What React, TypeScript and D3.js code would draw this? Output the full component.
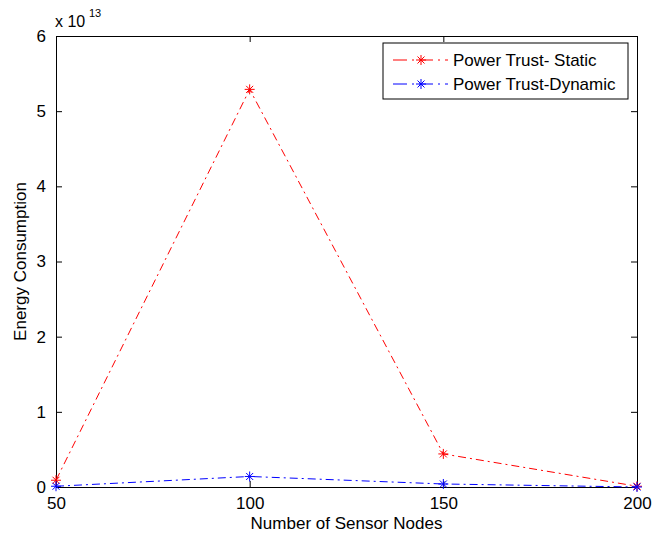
import React, { useEffect, useRef } from "react";
import * as d3 from "d3";

const nodes = [50, 100, 150, 200];
const staticEnergy = [0.09, 5.29, 0.44, 0.01];
const dynamicEnergy = [0.01, 0.14, 0.04, 0.0];
const yTicks = [0, 1, 2, 3, 4, 5, 6];
const seriesNames = ["Power Trust- Static", "Power Trust-Dynamic"];
const seriesColors = ["#ff0000", "#0000ff"];

const width = 663;
const height = 538;
const margin = { top: 36, right: 26, bottom: 51, left: 56 };

const App = () => {
  const ref = useRef<SVGSVGElement>(null);

  useEffect(() => {
    const svg = d3.select(ref.current);
    svg.selectAll("*").remove();

    const x = d3.scaleLinear().domain([50, 200]).range([margin.left, width - margin.right]);
    const y = d3.scaleLinear().domain([0, 6]).range([height - margin.bottom, margin.top]);
    const font = "'Liberation Sans', Arial, sans-serif";

    // ticks inside, like matlab
    const xAxis = d3.axisBottom(x).tickValues(nodes).tickSizeInner(-6).tickSizeOuter(0).tickPadding(10);
    const yAxis = d3
      .axisLeft(y)
      .tickValues(yTicks)
      .tickFormat(d3.format("d"))
      .tickSizeInner(-6)
      .tickSizeOuter(0)
      .tickPadding(10);
    const xTop = d3.axisTop(x).tickValues(nodes).tickSizeInner(-6).tickSizeOuter(0).tickFormat(() => "");
    const yRight = d3.axisRight(y).tickValues(yTicks).tickSizeInner(-6).tickSizeOuter(0).tickFormat(() => "");

    const gx = svg.append("g").attr("transform", `translate(0,${height - margin.bottom})`).call(xAxis);
    const gy = svg.append("g").attr("transform", `translate(${margin.left},0)`).call(yAxis);
    svg.append("g").attr("transform", `translate(0,${margin.top})`).call(xTop);
    svg.append("g").attr("transform", `translate(${width - margin.right},0)`).call(yRight);

    svg.selectAll(".domain").attr("stroke", "#000");
    svg.selectAll(".tick line").attr("stroke", "#000");
    [gx, gy].forEach((g) =>
      g.selectAll("text").attr("font-family", font).attr("font-size", 17).attr("fill", "#000")
    );

    svg
      .append("text")
      .attr("x", margin.left - 1)
      .attr("y", 27)
      .attr("font-family", font)
      .attr("font-size", 16)
      .text("x 10");
    svg
      .append("text")
      .attr("x", margin.left + 33)
      .attr("y", 17)
      .attr("font-family", font)
      .attr("font-size", 11)
      .text("13");

    svg
      .append("text")
      .attr("x", (margin.left + width - margin.right) / 2)
      .attr("y", 529)
      .attr("text-anchor", "middle")
      .attr("font-family", font)
      .attr("font-size", 17)
      .text("Number of Sensor Nodes");
    svg
      .append("text")
      .attr("transform", `translate(26,${(margin.top + height - margin.bottom) / 2}) rotate(-90)`)
      .attr("text-anchor", "middle")
      .attr("font-family", font)
      .attr("font-size", 17)
      .text("Energy Consumption");

    const line = d3
      .line<number>()
      .x((_, i) => x(nodes[i]))
      .y((d) => y(d));

    const star = (g: any, cx: number, cy: number, color: string) => {
      const r = 5;
      const s = g.append("g").attr("stroke", color).attr("stroke-width", 1);
      s.append("line").attr("x1", cx - r).attr("x2", cx + r).attr("y1", cy).attr("y2", cy);
      s.append("line").attr("x1", cx).attr("x2", cx).attr("y1", cy - r).attr("y2", cy + r);
      s.append("line").attr("x1", cx - r * 0.7).attr("x2", cx + r * 0.7).attr("y1", cy - r * 0.7).attr("y2", cy + r * 0.7);
      s.append("line").attr("x1", cx - r * 0.7).attr("x2", cx + r * 0.7).attr("y1", cy + r * 0.7).attr("y2", cy - r * 0.7);
    };

    [staticEnergy, dynamicEnergy].forEach((vals, k) => {
      svg
        .append("path")
        .datum(vals)
        .attr("d", line)
        .attr("fill", "none")
        .attr("stroke", seriesColors[k])
        .attr("stroke-width", 1)
        .attr("stroke-dasharray", "8,4,2,4");
      vals.forEach((v, i) => star(svg, x(nodes[i]), y(v), seriesColors[k]));
    });

    // legend
    const lg = svg.append("g").attr("transform", "translate(383,43)");
    lg.append("rect").attr("width", 245).attr("height", 56).attr("fill", "#fff").attr("stroke", "#000");
    seriesNames.forEach((name, k) => {
      const ly = 17 + k * 24;
      lg.append("line")
        .attr("x1", 10)
        .attr("x2", 65)
        .attr("y1", ly)
        .attr("y2", ly)
        .attr("stroke", seriesColors[k])
        .attr("stroke-dasharray", "14,5,2,5");
      star(lg, 38, ly, seriesColors[k]);
      lg.append("text")
        .attr("x", 70)
        .attr("y", ly + 6)
        .attr("font-family", font)
        .attr("font-size", 17)
        .text(name);
    });
  }, []);

  return <svg ref={ref} width={width} height={height} style={{ position: "absolute", left: 0, top: 0, background: "#fff" }} />;
};

export default App;
